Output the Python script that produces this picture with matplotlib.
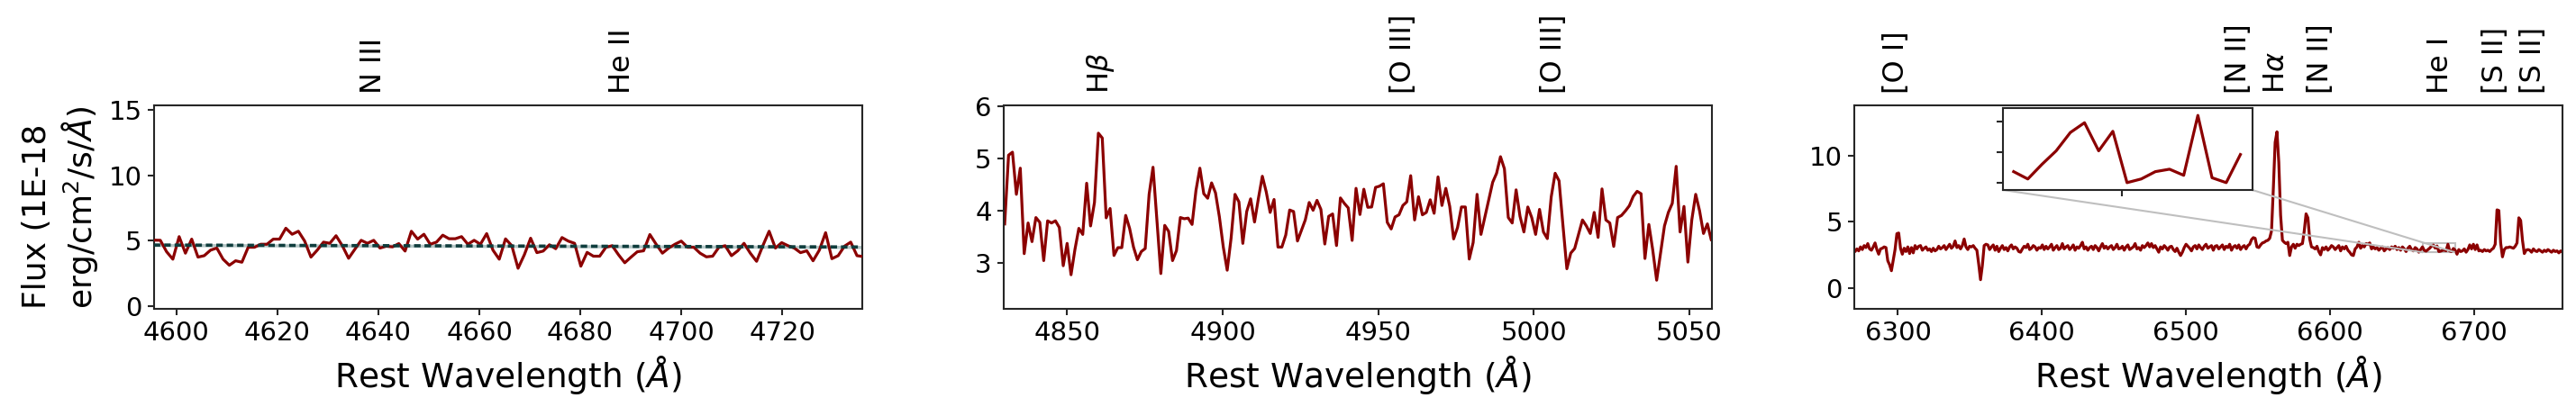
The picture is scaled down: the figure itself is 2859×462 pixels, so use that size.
import numpy as np
import matplotlib
matplotlib.use('Agg')
import matplotlib.pyplot as plt
import matplotlib.transforms as mtransforms
from mpl_toolkits.axes_grid1.inset_locator import mark_inset

plt.rcParams['font.family'] = ['DejaVu Sans']
plt.rcParams['mathtext.fontset'] = 'dejavusans'

# ---------------- data ----------------
# Panel 1 (N III / He II region)
wave1_start, wave1_step = 4595.55, 1.2435
flux1 = [5.05, 5.04, 4.17, 3.6, 5.32, 4.06, 5.13, 3.76, 3.87, 4.29,
         4.45, 3.6, 3.14, 3.48, 3.37, 4.51, 4.51, 4.74, 4.74, 5.13,
         5.13, 5.96, 5.5, 5.73, 4.98, 3.76, 4.29, 4.9, 4.81, 5.39,
         4.63, 3.67, 4.36, 5.04, 4.81, 5.04, 4.45, 4.59, 4.54, 4.79,
         4.22, 5.73, 5.13, 5.5, 4.74, 4.9, 5.43, 5.16, 5.16, 5.32,
         4.74, 5.04, 4.74, 5.55, 4.29, 3.6, 5.15,
         4.63, 2.91, 3.94, 5.2, 4.1, 4.22, 4.7, 4.4, 5.25, 4.98,
         4.81, 3.07, 4.12, 3.83, 3.83, 4.51, 4.63, 3.94, 3.33, 3.76,
         4.17, 4.24, 5.48, 4.74, 4.06, 4.45, 4.74, 4.98, 4.51, 4.51,
         4.06, 3.78, 3.83, 4.51, 4.63, 3.87, 4.24, 4.81, 4.06, 3.44,
         4.63, 5.73, 4.45, 4.86, 4.63, 4.45, 4.1, 4.24, 3.48, 4.29,
         5.62, 3.64, 3.87, 4.59, 4.9, 3.87, 3.8]
cont1_wave = [4595.5, 4735.8]
cont1_flux = [4.68, 4.53]
lines1_name = ['N III', 'He II']
lines1_wave = [4639.0, 4688.3]

# Panel 2 (H beta / [O III] region)
wave2_start, wave2_step = 4829.94, 1.2548
flux2 = [3.75,
         5.066, 5.124, 4.317, 4.818, 3.182, 3.769, 3.412, 3.873, 3.781, 3.049,
         3.81, 3.769, 3.81, 3.683, 2.951, 3.378, 2.778, 3.262, 3.666, 3.55,
         4.53, 3.712, 4.161, 5.487, 5.395, 3.867, 4.046, 3.147, 3.297, 3.297,
         3.914, 3.666, 3.308, 3.066, 3.222, 3.28, 4.317, 4.836, 3.827, 2.801,
         3.723, 3.608, 3.049, 3.239, 3.873, 3.85, 3.862, 3.741, 4.392, 4.818,
         4.329, 4.242, 4.536, 4.346, 3.885, 3.308, 2.865, 3.481, 4.317, 4.173,
         3.378, 3.988, 4.231, 3.787, 4.242, 4.663, 4.363, 3.971, 4.219, 3.308,
         3.308, 3.539, 4.017, 3.988, 3.424, 3.625, 3.827, 4.161, 4.012, 4.202,
         4.029, 3.366, 3.896, 3.942, 3.337, 4.248, 4.144, 4.058, 3.435, 4.432,
         3.931,
         4.415, 4.069, 4.075, 4.45, 4.473, 4.519, 3.781, 3.654, 3.885, 3.925,
         4.104, 4.173, 4.674, 3.827, 4.271, 3.925, 3.971, 4.213, 3.954, 4.651,
         4.104, 4.432, 4.086, 3.464, 3.683, 4.075, 4.075, 3.078, 3.395, 4.317,
         3.55, 3.885, 4.219, 4.548, 4.72, 5.037, 4.807, 3.873, 3.769, 4.403,
         3.896, 3.597, 4.075, 3.873, 3.55, 4.029, 3.597, 3.47, 4.271, 4.72,
         4.576, 3.723, 2.893, 3.193, 3.28, 3.55, 3.827, 3.712, 3.568, 3.971,
         3.493, 4.421, 3.827, 3.769, 3.32, 3.873, 3.914, 4.0, 4.098, 4.277,
         4.375, 4.329, 3.089, 3.741, 3.251, 2.674, 3.193, 3.712, 3.971, 4.144,
         4.853, 3.597, 4.086, 3.02, 3.827, 4.317, 4.0, 3.568, 3.752, 3.441,
         3.95]
lines2_name = [r'H$\beta$', '[O III]', '[O III]']
lines2_wave = [4860.8, 4958.2, 5006.3]

# Panel 3 (H alpha / [N II] / [S II] region)
wave3_start, wave3_step = 6268.945, 1.2625
flux3 = [2.85, 2.75, 2.95, 2.8, 3.1, 2.9, 3.2, 3.05, 3.35, 2.95, 2.85, 3.1, 3.4, 2.9, 2.55, 2.95, 3.0, 3.1, 3.05, 2.05,
         1.75, 1.3, 2.1, 2.9, 4.1, 4.15, 3.0, 2.55, 3.0, 2.75, 3.1, 2.6, 3.05, 2.65, 3.2, 2.95, 3.15, 3.2, 2.85, 3.0,
         3.1, 2.85, 2.95, 2.75, 3.0, 2.8, 2.9, 3.15, 2.95, 3.05, 3.2, 2.9, 3.1, 3.3, 3.0, 3.15, 3.55, 3.05, 3.2, 2.95,
         3.2, 3.7, 3.1, 2.9, 3.15, 3.1, 3.2, 3.0, 2.85, 1.8, 0.62, 1.7, 3.2, 3.3, 3.25, 2.9, 3.1, 3.25, 2.85, 3.15,
         2.75, 3.0, 3.2, 2.9, 3.05, 2.8, 3.1, 3.25, 2.95, 3.1, 3.0, 2.75, 2.7, 2.95, 3.15, 3.05, 3.3, 2.9, 3.0, 3.2,
         3.1, 2.85, 3.05, 3.0, 3.25, 2.9, 3.15, 2.95, 3.1, 3.3, 2.85, 3.05, 3.2, 2.9, 3.0, 3.35, 2.95, 3.1, 3.2, 2.9,
         3.05, 3.25, 2.85, 3.1, 3.0, 3.2, 3.45, 2.95, 3.1, 2.85, 3.05, 3.15, 2.9, 3.2, 3.05, 2.8, 3.1, 3.35, 3.0, 3.15,
         2.95, 3.1, 3.2, 2.9, 3.05, 3.3, 2.95, 3.0, 3.15, 2.85, 3.1, 3.25, 2.9, 3.0, 3.1, 3.35, 2.95, 3.05, 2.85, 3.2,
         3.05, 3.2, 3.4, 3.1, 3.35, 3.05, 3.2, 2.95, 2.7, 3.1, 2.95, 3.2, 3.05, 2.85, 3.1, 3.15, 2.9, 2.75, 3.0, 2.7,
         2.45, 2.7, 3.05, 3.3, 3.15, 3.0, 2.8, 3.1, 3.2, 2.95, 3.25, 3.05, 2.9, 3.15, 3.3, 3.0, 3.1, 3.2, 2.85, 3.15,
         3.2, 2.95, 3.1, 3.25, 2.9, 3.15, 3.05, 3.3, 2.85, 3.1, 3.2, 3.0, 3.25, 2.9, 3.1, 3.2, 2.95, 3.2, 3.3, 3.65,
         3.8, 3.75, 3.1, 3.05, 3.25, 3.4, 3.45, 3.55, 3.6, 3.75, 4.3, 7.5, 11.0, 11.8, 9.5, 5.5, 3.6, 3.45, 3.35, 3.45,
         2.45, 3.1, 3.3, 3.0, 3.3, 3.2, 3.3, 3.35, 4.3, 5.6, 5.3, 3.7, 3.1, 3.05, 2.95, 3.15, 2.75, 2.5, 3.05, 2.9,
         3.1, 2.85, 3.0, 3.2, 3.1, 2.9, 3.05, 3.2, 2.8, 3.1, 2.95, 3.15, 2.85, 2.7, 2.5, 2.45, 2.95, 3.1, 3.45, 3.0,
         3.2, 3.1, 3.35, 3.3, 3.4, 2.95, 3.1, 2.95, 3.05, 2.85, 3.0, 3.1, 2.8, 2.95, 3.05, 2.9, 3.1, 3.0, 3.15, 2.9,
         3.05, 2.85, 3.1, 2.95, 2.75, 3.0, 3.15, 2.9, 2.8, 3.05, 2.95, 2.7, 2.9, 3.1, 2.84, 2.78, 2.9, 3.01, 3.16, 3.24,
         3.01, 3.17, 2.75, 2.78, 2.84, 2.86, 2.81, 3.30, 2.79, 2.75, 2.98, 2.85, 2.55, 2.9, 2.75, 2.8, 2.95, 2.7, 2.9, 3.25,
         2.95, 3.3, 2.9, 3.25, 2.8, 2.85, 2.75, 2.9, 2.8, 2.85, 2.75, 2.9, 3.0, 3.3, 5.9, 5.85, 3.4, 2.35, 2.9, 3.05,
         3.05, 3.1, 3.05, 3.0, 3.15, 3.4, 5.3, 5.1, 3.6, 2.6, 2.85, 2.9, 2.85, 2.7, 2.95, 2.8, 2.75, 2.9, 2.8, 2.7,
         2.85, 2.75, 2.9, 2.8, 2.7, 2.85, 2.75, 2.8, 2.65, 2.8, 2.7, 2.75]
lines3_name = ['[O I]', '[N II]', r'H$\alpha$', '[N II]', 'He I', '[S II]', '[S II]']
lines3_wave = [6298.6, 6536.6, 6562.8, 6593.5, 6676.8, 6714.9, 6741.1]
inset_range = [6665.0, 6686.0]

# ---------------- style ----------------
red = '#8b0000'
spine_c = '#262626'
tick_fs = 21
xlabel_fs = 27
ylabel_fs = 26
line_fs = 23
lw_main = 2.3

fig = plt.figure(figsize=(28.59, 4.62), dpi=100)

ax_w, ax_b, ax_h = 0.2749, 0.2576, 0.4892
ax1 = fig.add_axes([0.0597, ax_b, ax_w, ax_h])
ax2 = fig.add_axes([0.3896, ax_b, ax_w, ax_h])
ax3 = fig.add_axes([0.7199, ax_b, ax_w, ax_h])


def style(ax):
    for s in ax.spines.values():
        s.set_color(spine_c)
        s.set_linewidth(1.5)
    ax.tick_params(axis='both', which='both', direction='out', length=5,
                   width=1.5, color=spine_c, labelsize=tick_fs, pad=4.5,
                   top=False, right=False)


def add_lines(ax, names, waves):
    trans = mtransforms.blended_transform_factory(ax.transData, ax.transAxes)
    for n, w in zip(names, waves):
        ax.text(w, 1.056, n, rotation=90, ha='center', va='bottom',
                fontsize=line_fs, transform=trans, clip_on=False)


# Panel 1
wave1 = wave1_start + wave1_step * np.arange(len(flux1))
ax1.plot(wave1, flux1, color=red, lw=lw_main, zorder=3)
ax1.fill_between(cont1_wave, np.array(cont1_flux) - 0.12, np.array(cont1_flux) + 0.12,
                 color='#2f5f5f', alpha=0.35, lw=0, zorder=2)
ax1.plot(cont1_wave, cont1_flux, color='#0f3d3d', lw=2.6, dashes=(2.0, 1.2), zorder=4)
ax1.set_xlim(4595.5, 4735.8)
ax1.set_ylim(-0.18, 15.32)
ax1.set_xticks([4600, 4620, 4640, 4660, 4680, 4700, 4720])
ax1.set_yticks([0, 5, 10, 15])
style(ax1)
add_lines(ax1, lines1_name, lines1_wave)
ax1.set_ylabel('Flux (1E-18\nerg/cm$^2$/s/$\\AA$)', fontsize=ylabel_fs,
               multialignment='left', labelpad=7)

# Panel 2
wave2 = wave2_start + wave2_step * np.arange(len(flux2))
ax2.plot(wave2, flux2, color=red, lw=lw_main)
ax2.set_xlim(4829.6, 5057.2)
ax2.set_ylim(2.126, 6.02)
ax2.set_xticks([4850, 4900, 4950, 5000, 5050])
ax2.set_yticks([3, 4, 5, 6])
style(ax2)
add_lines(ax2, lines2_name, lines2_wave)

# Panel 3
wave3 = wave3_start + wave3_step * np.arange(len(flux3))
ax3.plot(wave3, flux3, color=red, lw=lw_main)
ax3.set_xlim(6269.8, 6761.4)
ax3.set_ylim(-1.58, 13.8)
ax3.set_xticks([6300, 6400, 6500, 6600, 6700])
ax3.set_yticks([0, 5, 10])
style(ax3)
add_lines(ax3, lines3_name, lines3_wave)

for ax in (ax1, ax2, ax3):
    ax.set_xlabel('Rest Wavelength ($\\AA$)', fontsize=xlabel_fs, labelpad=6)

# Inset
axins = fig.add_axes([0.7776, 0.5433, 0.09678, 0.19697])
sel = (wave3 >= inset_range[0]) & (wave3 <= inset_range[1])
axins.plot(wave3[sel], np.array(flux3)[sel], color=red, lw=lw_main)
axins.set_xlim(6664.43, 6686.64)
axins.set_ylim(2.69, 3.36)
axins.set_xticks([6675])
axins.set_yticks([2.75, 3.0, 3.25])
axins.set_xticklabels([])
axins.set_yticklabels([])
for s in axins.spines.values():
    s.set_color(spine_c)
    s.set_linewidth(1.5)
axins.tick_params(direction='out', length=5, width=1.5, color=spine_c)
mark_inset(ax3, axins, loc1=3, loc2=4, fc='none', ec='0.75', lw=1.5)

fig.savefig('out.png', dpi=100)
